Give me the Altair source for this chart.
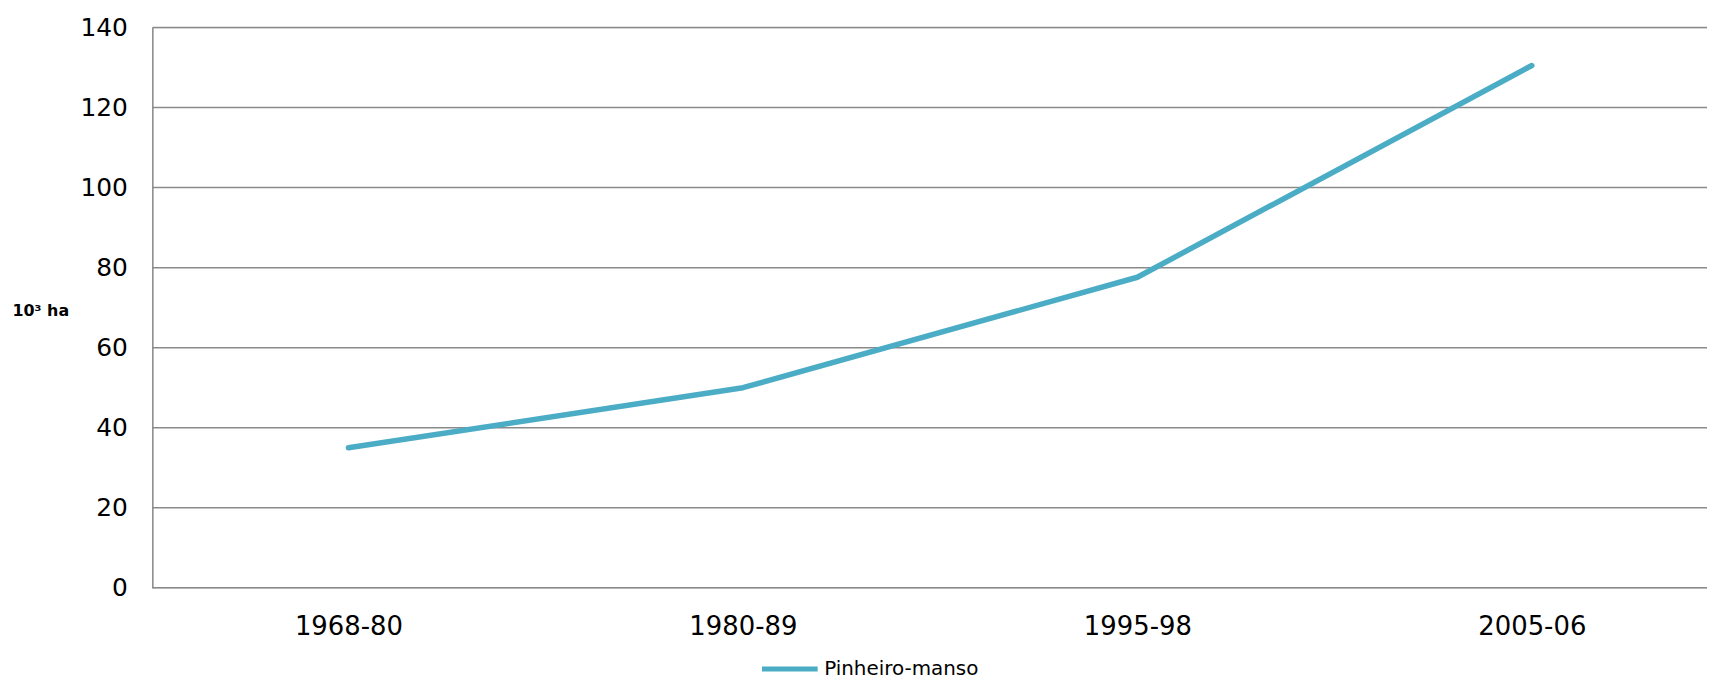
import altair as alt
import pandas as pd

periods = ["1968-80", "1980-89", "1995-98", "2005-06"]
area_kha = [35.0, 50.0, 77.6, 130.5]
series_name = "Pinheiro-manso"
y_ticks = [0, 20, 40, 60, 80, 100, 120, 140]

df = pd.DataFrame({"periodo": periods, "area": area_kha, "serie": [series_name] * len(periods)})
grid_df = pd.DataFrame({"v": y_ticks})

FONT = "DejaVu Sans"
GRID = "#8a8a8a"
W, H = 1562, 563

y_scale = alt.Scale(domain=[0, 140], nice=False)
y_axis = alt.Axis(
    title="10³ ha",
    values=y_ticks,
    titleAngle=0,
    titleFont=FONT,
    titleFontSize=16,
    titleFontWeight="bold",
    titleColor="#000000",
    titleAlign="left",
    titleBaseline="middle",
    titleX=-141,
    titleY=284,
    ticks=False,
    domain=True,
    domainColor=GRID,
    domainWidth=1.5,
    grid=False,
    labelFont=FONT,
    labelFontSize=25,
    labelColor="#000000",
    labelPadding=25,
)

grid = (
    alt.Chart(grid_df)
    .mark_rule(color=GRID, strokeWidth=1.5)
    .encode(
        y=alt.Y("v:Q", scale=y_scale, axis=y_axis, title="10³ ha"),
        x=alt.value(0),
        x2=alt.value(W),
    )
)

line = (
    alt.Chart(df)
    .mark_line(strokeWidth=5.5, strokeCap="round", strokeJoin="round")
    .encode(
        x=alt.X(
            "periodo:N",
            sort=periods,
            scale=alt.Scale(type="point", range=[197, 1386], padding=0),
            axis=alt.Axis(
                title=None,
                domain=False,
                ticks=False,
                grid=False,
                labelAngle=0,
                labelFont=FONT,
                labelFontSize=26,
                labelColor="#000000",
                labelPadding=26,
                labelAlign="center",
                labelBaseline="top",
            ),
        ),
        y=alt.Y("area:Q", scale=y_scale, axis=y_axis, title="10³ ha"),
        color=alt.Color(
            "serie:N",
            scale=alt.Scale(range=["#4BACC6"]),
            legend=alt.Legend(
                title=None,
                orient="none",
                legendX=610,
                legendY=614,
                symbolType="stroke",
                symbolSize=3136,
                symbolStrokeWidth=5,
                labelFont=FONT,
                labelFontSize=20,
                labelColor="#000000",
                labelOffset=4,
                padding=0,
            ),
        ),
    )
)

chart = (
    alt.layer(grid, line)
    .properties(
        width=W,
        height=H,
        autosize=alt.AutoSizeParams(type="none"),
        padding={"left": 145, "top": 18, "right": 0, "bottom": 91},
    )
    .configure_view(strokeWidth=0, stroke="transparent")
    .configure(background="#ffffff")
)

chart.save("out.html", embed_options={"renderer": "svg", "actions": False})
